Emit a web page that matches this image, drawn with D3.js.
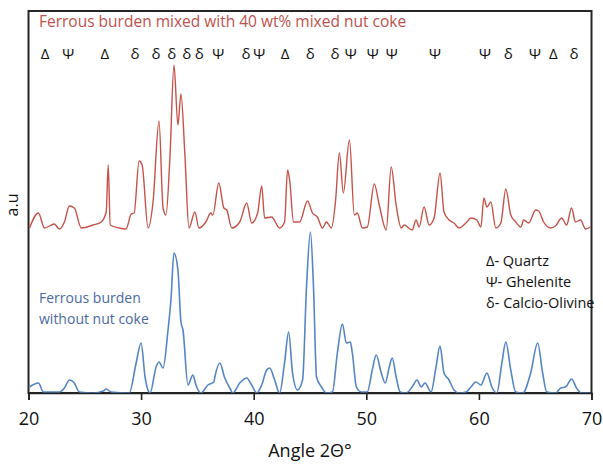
<!DOCTYPE html>
<html>
<head>
<meta charset="utf-8">
<script src="https://cdn.jsdelivr.net/npm/d3@7"></script>
<style>
  body { margin: 0; background: #fff; }
  text { font-family: "Open Sans", "Noto Sans", sans-serif; }
</style>
</head>
<body>
<div class="xrd-chart-wrapper"></div>
<script>
// ferrous burden mixed with 40 wt% mixed nut coke (red)
var redAngle = [20.09,20.88,21.42,22.30,22.74,23.19,23.63,24.07,24.69,25.75,26.46,26.90,27.08,27.26,28.05,28.67,29.12,29.38,29.82,30.09,
  30.62,31.06,31.59,31.95,32.21,32.57,32.92,33.27,33.54,33.89,34.25,34.78,35.13,35.75,36.19,36.37,36.90,37.35,37.61,38.05,
  38.76,39.38,39.82,40.35,40.71,40.97,41.59,42.30,42.74,43.01,43.19,43.54,44.07,44.78,45.22,45.66,46.11,46.46,46.90,47.26,
  47.61,47.96,48.50,48.94,49.20,49.65,50.09,50.71,51.15,51.77,52.21,52.65,53.10,53.36,54.07,54.42,54.69,55.13,55.58,56.02,
  56.55,56.90,57.35,57.79,58.23,58.85,59.29,59.82,60.18,60.44,60.71,61.06,61.50,61.95,62.39,62.83,63.27,63.72,63.98,64.42,
  65.04,65.31,65.75,66.37,66.81,67.35,67.79,68.23,68.58,69.03,69.47,69.91];
var redIntensity = [165,180,165,169,164,171,187,185,165,168,171,181,228,168,165,164,179,180,232,228,
  165,191,272,185,178,238,328,268,299,238,165,181,165,171,180,178,210,185,183,165,
  171,190,170,180,207,175,176,165,171,223,213,171,171,192,180,176,165,171,165,191,
  240,200,253,178,180,165,166,209,188,163,226,188,165,168,163,173,166,186,168,175,
  220,181,173,170,165,170,175,173,166,195,186,191,165,170,204,178,171,166,173,170,
  183,182,171,165,167,175,168,185,171,173,164,166];

// ferrous burden without nut coke (blue)
var blueAngle = [20.09,20.88,21.33,22.21,22.74,23.19,23.63,24.07,24.51,25.75,26.64,26.90,27.35,28.94,29.56,30.00,30.35,30.80,31.33,31.59,
  31.95,32.39,32.65,32.92,33.27,33.54,33.72,34.16,34.60,34.87,35.31,35.93,36.46,36.55,36.99,37.43,37.88,38.14,38.76,39.38,
  39.82,40.27,40.71,41.15,41.42,41.86,42.30,42.74,43.10,43.45,43.89,44.34,44.69,45.04,45.31,45.58,46.02,46.46,46.99,47.43,
  47.88,48.23,48.58,48.76,49.12,49.56,50.09,50.53,50.88,51.33,51.68,52.04,52.30,52.65,53.01,53.54,54.07,54.51,54.87,55.22,
  55.75,56.19,56.55,56.90,57.35,57.79,58.23,58.85,59.29,59.73,60.18,60.71,61.15,61.59,62.04,62.39,62.83,63.27,63.89,64.60,
  65.22,65.66,66.02,66.81,67.26,67.70,68.23,68.67,69.12,69.91];
var blueIntensity = [6,10,1,1,1,5,13,10,1,0,2,4,1,0,30,50,16,0,26,31,
  25,63,93,140,123,71,63,8,18,8,0,8,11,16,30,15,5,0,10,15,
  8,0,8,23,25,13,0,30,61,20,3,13,106,161,106,16,6,0,1,40,
  69,50,51,40,6,1,1,23,38,20,10,26,35,16,1,0,6,13,6,10,
  1,26,47,20,13,3,0,1,6,11,8,20,6,0,30,51,23,1,0,20,
  50,20,1,0,5,6,14,5,0,0];

// phase markers along the top
var markerAngle = [21.47,23.53,26.79,29.46,31.32,32.72,34.05,35.17,36.86,39.32,40.50,42.78,45.03,47.22,48.61,50.57,52.26,56.10,60.54,62.61,64.98,66.61,68.45];
var markerGlyph = ["Δ","Ψ","Δ","δ","δ","δ","δ","δ","Ψ","δ","Ψ","Δ","δ","δ","Ψ","Ψ","Ψ","Ψ","Ψ","δ","Ψ","Δ","δ"];

var legendLabels = ["Δ- Quartz", "Ψ- Ghelenite", "δ- Calcio-Olivine"];
var xTicks = [20, 30, 40, 50, 60, 70];

var margin = {top: 11, right: 11.5, bottom: 71, left: 28.5},
    width = 603 - margin.left - margin.right,
    height = 464 - margin.top - margin.bottom;

var x = d3.scaleLinear().domain([20, 70]).range([0, width]);
var y = d3.scaleLinear().domain([0, 382]).range([height, 0]);

var svg = d3.select('.xrd-chart-wrapper').append("svg")
  .attr("width", 603)
  .attr("height", 464);

var g = svg.append("g")
  .attr("transform", "translate(" + margin.left + "," + margin.top + ")");

var line = d3.line()
  .curve(d3.curveMonotoneX)
  .x(function(d){ return x(d[0]); })
  .y(function(d){ return y(d[1]); });

var redData = redAngle.map(function(a, i){ return [a, redIntensity[i]]; });
var blueData = blueAngle.map(function(a, i){ return [a, blueIntensity[i]]; });

// plot frame
g.append("rect")
  .attr("x", 0)
  .attr("y", 0)
  .attr("width", width)
  .attr("height", height)
  .attr("fill", "none")
  .attr("stroke", "#262626")
  .attr("stroke-width", 2);

g.append("path")
  .datum(blueData)
  .attr("fill", "none")
  .attr("stroke", "#5585c4")
  .attr("stroke-width", 1.6)
  .attr("stroke-linejoin", "round")
  .attr("d", line);

g.append("path")
  .datum(redData)
  .attr("fill", "none")
  .attr("stroke", "#c55249")
  .attr("stroke-width", 1.4)
  .attr("stroke-linejoin", "round")
  .attr("d", line);

g.append("g")
  .attr("class", "axis axis--x")
  .attr("transform", "translate(0," + height + ")")
  .call(d3.axisBottom(x).tickValues(xTicks).tickSize(7).tickPadding(12).tickFormat(d3.format("d")))
  .call(function(a){
    a.select(".domain").attr("stroke", "#222").attr("stroke-width", 1.6);
    a.selectAll(".tick line").attr("stroke", "#222").attr("stroke-width", 1.6);
    a.selectAll("text").attr("fill", "#111").style("font-size", "18px").style("font-family", "'Open Sans', sans-serif");
  });

g.selectAll(".marker")
  .data(markerAngle)
  .enter().append("text")
  .attr("class", "marker")
  .attr("x", function(d){ return x(d); })
  .attr("y", 48)
  .attr("text-anchor", "middle")
  .style("font-size", "15px")
  .attr("fill", "#111")
  .text(function(d, i){ return markerGlyph[i]; });

svg.append("text")
  .attr("x", 39)
  .attr("y", 27)
  .attr("fill", "#c0504d")
  .style("font-size", "15.5px")
  .text("Ferrous burden mixed with 40 wt% mixed nut coke");

svg.append("text")
  .attr("x", 39)
  .attr("y", 303)
  .attr("fill", "#4a6aa5")
  .style("font-size", "14px")
  .text("Ferrous burden");

svg.append("text")
  .attr("x", 39)
  .attr("y", 324)
  .attr("fill", "#4a6aa5")
  .style("font-size", "14px")
  .text("without nut coke");

svg.selectAll(".legend")
  .data(legendLabels)
  .enter().append("text")
  .attr("class", "legend")
  .attr("x", 486)
  .attr("y", function(d, i){ return 266 + i * 21; })
  .attr("fill", "#111")
  .style("font-size", "14.5px")
  .text(function(d){ return d; });

svg.append("text")
  .attr("transform", "rotate(-90)")
  .attr("x", -205)
  .attr("y", 18)
  .attr("text-anchor", "middle")
  .attr("fill", "#111")
  .style("font-size", "16px")
  .text("a.u");

svg.append("text")
  .attr("x", 310)
  .attr("y", 457)
  .attr("text-anchor", "middle")
  .attr("fill", "#111")
  .style("font-size", "18px")
  .text("Angle 2Θ°");
</script>
</body>
</html>
